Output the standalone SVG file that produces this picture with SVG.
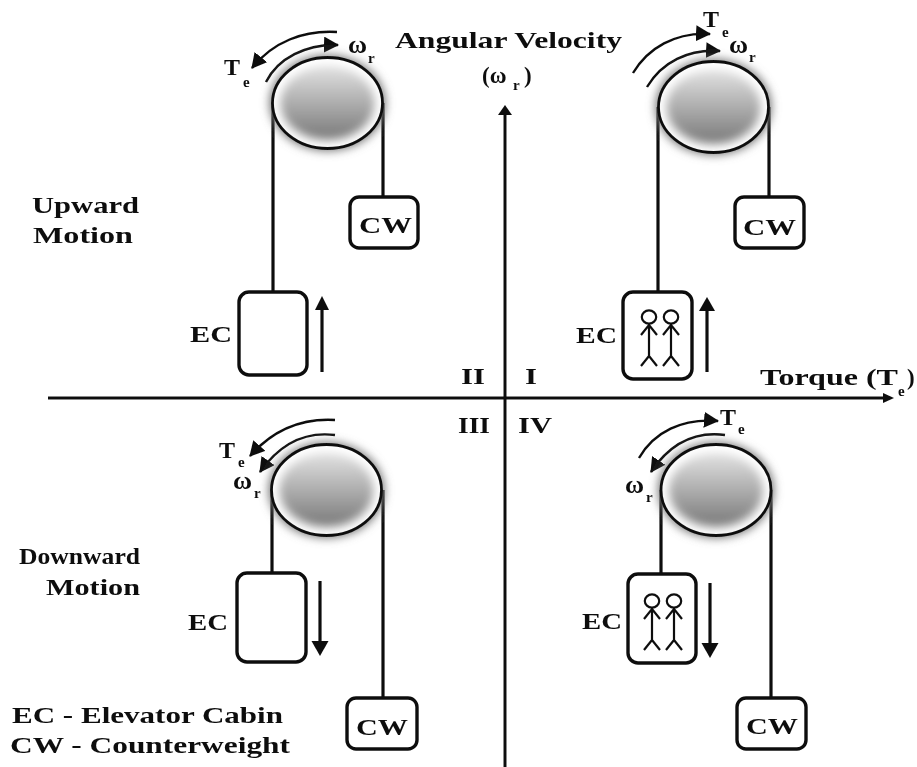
<svg xmlns="http://www.w3.org/2000/svg" xmlns:xlink="http://www.w3.org/1999/xlink" width="917" height="767" viewBox="0 0 917 767">
<style>
text{font-family:"Liberation Serif","Times New Roman",serif;font-weight:700;fill:#111}
.l{font-size:24px}.m{font-size:23px}.s{font-size:15px}.w{font-size:26px}
.box{fill:#fff;stroke:#111;stroke-width:3.4}
.rope{fill:none;stroke:#111;stroke-width:3.2}
.ax{fill:none;stroke:#111;stroke-width:3}
.arc{fill:none;stroke:#111;stroke-width:2.4}
.arrow{fill:none;stroke:#111;stroke-width:3.2}
.rim{fill:none;stroke:#111;stroke-width:2.8}
.p{fill:none;stroke:#111;stroke-width:2.2}
</style>
<defs>
<linearGradient id="pg" x1="0" y1="0" x2="0" y2="1"><stop offset="0" stop-color="#e2e2e2"/><stop offset="1" stop-color="#787878"/></linearGradient>
<filter id="b5" x="-30%" y="-30%" width="160%" height="160%"><feGaussianBlur stdDeviation="5"/></filter>
<filter id="soft" x="0" y="0" width="100%" height="100%" filterUnits="userSpaceOnUse" primitiveUnits="userSpaceOnUse"><feGaussianBlur stdDeviation="0.45"/></filter>
<marker id="head" markerUnits="userSpaceOnUse" markerWidth="18" markerHeight="18" refX="14" refY="8" orient="auto"><path d="M0 0L15 8L0 16Z" fill="#111"/></marker>
<marker id="tip" markerUnits="userSpaceOnUse" markerWidth="18" markerHeight="18" refX="12" refY="8" orient="auto"><path d="M0 0L14 8L0 16Z" fill="#111"/></marker>
<g id="pulley">
<ellipse rx="58" ry="48" fill="#777" filter="url(#b5)"/>
<ellipse rx="55" ry="45.5" fill="#fff"/>
<ellipse rx="47" ry="37" fill="url(#pg)" filter="url(#b5)"/>
<ellipse class="rim" rx="55" ry="45.5"/>
</g>
<g id="person" class="p">
<ellipse cx="0" cy="0" rx="7.2" ry="6.6"/>
<path d="M0 6.5V39M-8 18L0 8L8 18M0 39L-8 49M0 39L8 49"/>
</g>
</defs>
<rect width="917" height="767" fill="#fff"/>
<g filter="url(#soft)">
<g id="connectors">
<path class="ax" d="M505 767V112"/>
<path d="M505 105l-7 10h14Z" fill="#111"/>
<path class="ax" d="M48 398H888"/>
<path d="M894 398l-11-5v10Z" fill="#111"/>
<path class="rope" d="M273 103V292M383 103V197"/>
<path class="rope" d="M658 107V292M769 107V197"/>
<path class="rope" d="M272 490V574M383 490V698"/>
<path class="rope" d="M661 490V574M771 490V698"/>
<path class="arrow" d="M322 372V306"/><path d="M322 296l-7 14h14Z" fill="#111"/>
<path class="arrow" d="M707 372V306"/><path d="M707 297l-8 14h16Z" fill="#111"/>
<path class="arrow" d="M320 581V645"/><path d="M320 656l-8.500-15h17Z" fill="#111"/>
<path class="arrow" d="M710 583V645"/><path d="M710 658l-8.500-15h17Z" fill="#111"/>
<path class="arc" marker-end="url(#head)" d="M337 32C303 30 273 42 252 68"/>
<path class="arc" marker-end="url(#head)" d="M266 82C278 58 306 44 338 45"/>
<path class="arc" marker-end="url(#head)" d="M633 73C648 48 675 32 710 34"/>
<path class="arc" marker-end="url(#head)" d="M647 87C662 62 688 49 720 51"/>
<path class="arc" marker-end="url(#head)" d="M639 458C654 432 682 418 718 421"/>
<path class="arc" marker-end="url(#head)" d="M725 435C694 431 669 445 651 472"/>
<path class="arc" marker-end="url(#head)" d="M335 420C301 418 273 430 250 456"/>
<path class="arc" marker-end="url(#head)" d="M335 435C303 431 279 445 260 472"/>
</g>
<use id="pulley-1" href="#pulley" x="327.500" y="103"/>
<use id="pulley-2" href="#pulley" x="713.500" y="107"/>
<use id="pulley-3" href="#pulley" x="326.500" y="490"/>
<use id="pulley-4" href="#pulley" x="716" y="490"/>
<g id="cw-1"><rect class="box" x="350" y="197" width="68" height="51" rx="9"/><text class="l" x="359" y="233" textLength="53" lengthAdjust="spacingAndGlyphs">CW</text></g>
<g id="cw-2"><rect class="box" x="735" y="197" width="69" height="51" rx="9"/><text class="l" x="743" y="235" textLength="53" lengthAdjust="spacingAndGlyphs">CW</text></g>
<g id="cw-3"><rect class="box" x="347" y="698" width="70" height="51" rx="9"/><text class="l" x="356" y="735" textLength="52" lengthAdjust="spacingAndGlyphs">CW</text></g>
<g id="cw-4"><rect class="box" x="737" y="698" width="69" height="51" rx="9"/><text class="l" x="746" y="734" textLength="52" lengthAdjust="spacingAndGlyphs">CW</text></g>
<g id="ec-1"><rect class="box" x="239" y="292" width="68" height="83" rx="10"/><text class="l" x="190" y="342" textLength="42" lengthAdjust="spacingAndGlyphs">EC</text></g>
<g id="ec-2"><rect class="box" x="623" y="292" width="69" height="87" rx="10"/><use href="#person" x="649" y="317"/><use href="#person" x="671" y="317"/><text class="l" x="576" y="343" textLength="41" lengthAdjust="spacingAndGlyphs">EC</text></g>
<g id="ec-3"><rect class="box" x="237" y="573" width="69" height="89" rx="10"/><text class="l" x="188" y="630" textLength="40" lengthAdjust="spacingAndGlyphs">EC</text></g>
<g id="ec-4"><rect class="box" x="628" y="574" width="68" height="89" rx="10"/><use href="#person" x="652" y="601"/><use href="#person" x="674" y="601"/><text class="l" x="582" y="629" textLength="40" lengthAdjust="spacingAndGlyphs">EC</text></g>
<g id="labels">
<text class="m" x="395" y="48" textLength="227" lengthAdjust="spacingAndGlyphs">Angular Velocity</text>
<text class="m" x="482" y="83">(ω</text><text class="s" x="513" y="90">r</text><text class="m" x="524" y="83">)</text>
<text class="m" x="32" y="213" textLength="107" lengthAdjust="spacingAndGlyphs">Upward</text>
<text class="m" x="33" y="243" textLength="100" lengthAdjust="spacingAndGlyphs">Motion</text>
<text class="m" x="19" y="564" textLength="121" lengthAdjust="spacingAndGlyphs">Downward</text>
<text class="m" x="46" y="595" textLength="94" lengthAdjust="spacingAndGlyphs">Motion</text>
<text class="m" x="12" y="723" textLength="271" lengthAdjust="spacingAndGlyphs">EC - Elevator Cabin</text>
<text class="m" x="10" y="753" textLength="280" lengthAdjust="spacingAndGlyphs">CW - Counterweight</text>
<text class="m" x="461" y="384" textLength="24" lengthAdjust="spacingAndGlyphs">II</text>
<text class="m" x="525" y="384" textLength="12" lengthAdjust="spacingAndGlyphs">I</text>
<text class="m" x="458" y="433" textLength="32" lengthAdjust="spacingAndGlyphs">III</text>
<text class="m" x="518" y="433" textLength="34" lengthAdjust="spacingAndGlyphs">IV</text>
<text class="m" x="760" y="385" textLength="138" lengthAdjust="spacingAndGlyphs">Torque (T</text><text class="s" x="898" y="396">e</text><text class="m" x="907" y="385">)</text>
<text class="l" x="224" y="75">T</text><text class="s" x="243" y="87">e</text>
<text class="w" x="348" y="53">ω</text><text class="s" x="368" y="63">r</text>
<text class="l" x="703" y="27">T</text><text class="s" x="722" y="37">e</text>
<text class="w" x="729" y="53">ω</text><text class="s" x="749" y="62">r</text>
<text class="l" x="720" y="425">T</text><text class="s" x="738" y="434">e</text>
<text class="w" x="625" y="493">ω</text><text class="s" x="646" y="502">r</text>
<text class="l" x="219" y="458">T</text><text class="s" x="238" y="467">e</text>
<text class="w" x="233" y="489">ω</text><text class="s" x="254" y="498">r</text>
</g>
</g>
</svg>
